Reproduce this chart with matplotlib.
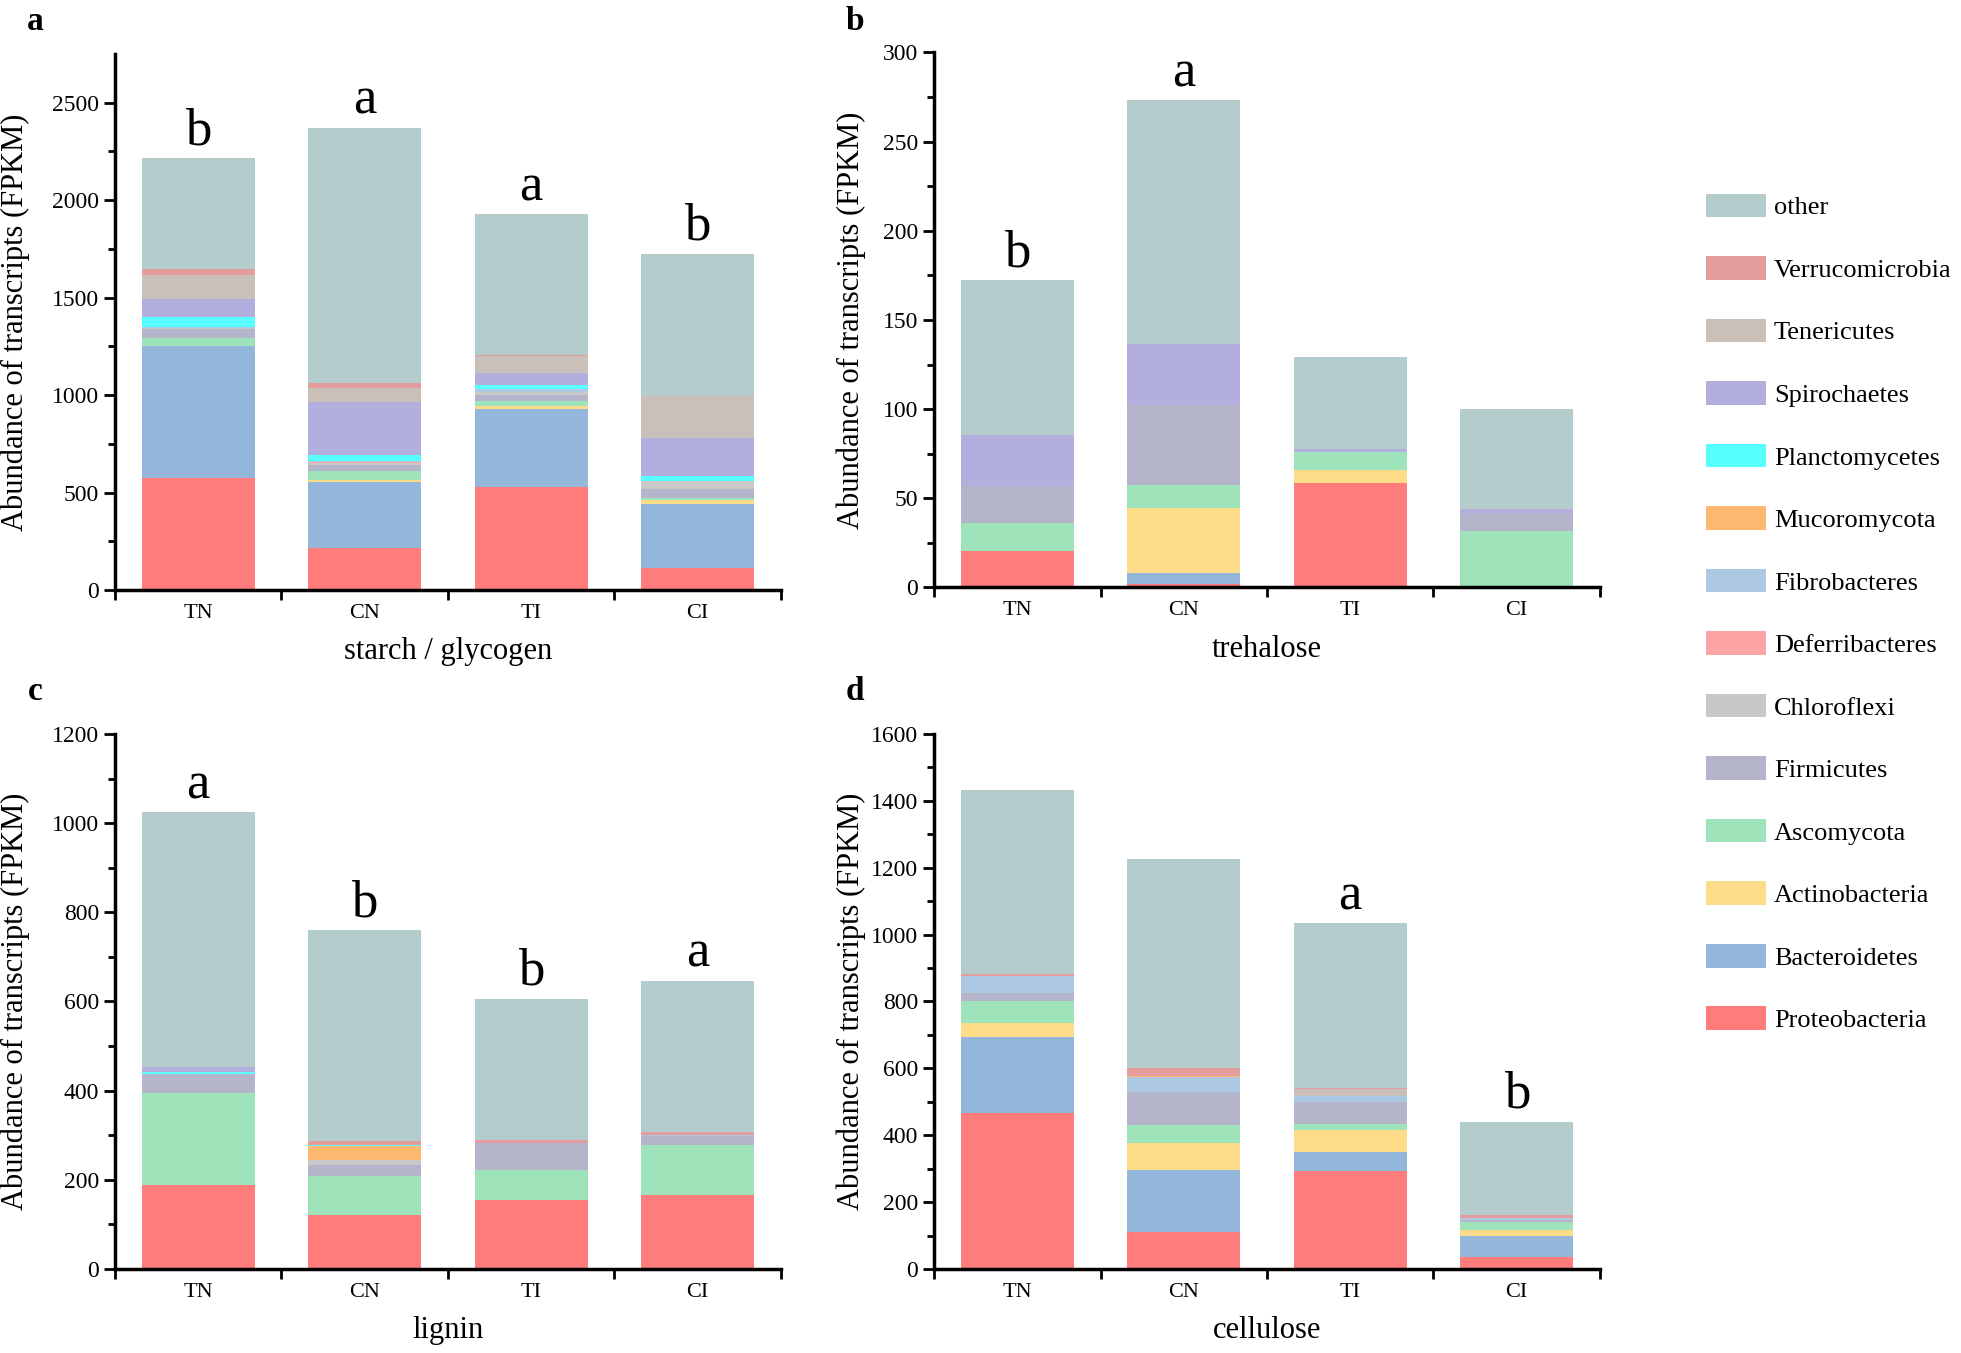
import numpy as np
import matplotlib
matplotlib.use("Agg")
import matplotlib.pyplot as plt
from matplotlib.patches import Patch

plt.rcParams["font.family"] = ["Liberation Serif", "DejaVu Serif"]

groups = ["TN", "CN", "TI", "CI"]

# stacking order, bottom to top
taxa = ["Proteobacteria", "Bacteroidetes", "Actinobacteria", "Ascomycota",
        "Firmicutes", "Chloroflexi", "Deferribacteres", "Fibrobacteres",
        "Mucoromycota", "Planctomycetes", "Spirochaetes", "Tenericutes",
        "Verrucomicrobia", "other"]

colors = ["#FF7C7C", "#94B6DA", "#FDDC89", "#9EE3BA",
          "#B4B4CA", "#C8C8C8", "#FCA3A3", "#ADC8E2",
          "#FCB86E", "#57FFFF", "#B2AEDD", "#CAC0BA",
          "#E59C9C", "#B5CCCC"]

# values per taxon (rows, same order as taxa) for TN, CN, TI, CI
starch = [
    [576, 214, 528, 113],
    [676, 342, 400, 329],
    [0, 11, 15, 21],
    [43, 42, 26, 10],
    [45, 34, 30, 47],
    [3, 10, 15, 37],
    [3, 2, 3, 0],
    [5, 5, 13, 0],
    [0, 0, 0, 0],
    [49, 34, 24, 26],
    [94, 271, 57, 199],
    [123, 74, 91, 212],
    [31, 21, 4, 0],
    [566, 1311, 723, 731],
]

trehalose = [
    [20.6, 2.2, 58.7, 0],
    [0, 5.7, 0, 0],
    [0, 36.4, 7, 0],
    [15.3, 12.9, 10, 31.6],
    [21, 45.4, 0, 10.3],
    [0, 0, 0, 0],
    [0, 0, 0, 0],
    [0, 0, 0, 0],
    [0, 0, 0, 0],
    [0, 0, 0, 0],
    [28.4, 33.7, 2, 2.2],
    [0, 0, 0, 0],
    [0, 0, 0, 0],
    [87, 137, 51.4, 56.1],
]

lignin = [
    [189, 122, 155, 166],
    [0, 0, 0, 0],
    [0, 0, 0, 0],
    [205, 87, 67, 111],
    [44, 25, 60, 21],
    [0, 11, 0, 0],
    [0, 0, 0, 0],
    [0, 0, 0, 3],
    [0, 31, 0, 0],
    [4, 3, 0, 0],
    [12, 0, 0, 0],
    [0, 0, 0, 0],
    [0, 7, 7, 7],
    [570, 474, 317, 339],
]

cellulose = [
    [467, 111, 294, 35],
    [226, 185, 55, 65],
    [43, 82, 66, 17],
    [64, 52, 20, 23],
    [24, 100, 63, 7],
    [0, 0, 0, 0],
    [0, 0, 0, 0],
    [52, 43, 20, 6],
    [0, 3, 0, 0],
    [0, 0, 0, 0],
    [0, 0, 0, 0],
    [0, 0, 20, 0],
    [5, 26, 4, 7],
    [551, 624, 492, 280],
]

letters_starch = ["b", "a", "a", "b"]
letters_trehalose = ["b", "a", "", ""]
letters_lignin = ["a", "b", "b", "a"]
letters_cellulose = ["", "", "a", "b"]

W, H = 1961, 1353
fig = plt.figure(figsize=(W / 100, H / 100), dpi=100)


def make_panel(rect, values, letters, xlabel, ymax, ystep, ylab_x):
    ax = fig.add_axes(rect)
    x = np.arange(len(groups))
    bottom = np.zeros(len(groups))
    for col, vals in zip(colors, values):
        vals = np.array(vals, dtype=float)
        ax.bar(x, vals, width=0.68, bottom=bottom, color=col, linewidth=0)
        bottom += vals
    for xi, top, lab in zip(x, bottom, letters):
        if lab:
            ax.annotate(lab, (xi, top), xytext=(0, 10), textcoords="offset points",
                        ha="center", va="baseline", fontsize=38)

    ax.set_xlim(-0.5, 3.5)
    ax.set_ylim(0, ymax)
    ax.set_xticks(x)
    ax.set_xticklabels(groups, fontsize=16)
    ax.set_xticks(np.arange(-0.5, 4), minor=True)
    ax.tick_params(axis="x", which="major", length=0, pad=10)
    ax.tick_params(axis="x", which="minor", length=7, width=2, direction="out")
    ax.set_yticks(np.arange(0, ymax + 1, ystep))
    ax.set_yticks(np.arange(ystep / 2, ymax, ystep), minor=True)
    ax.tick_params(axis="y", which="major", length=8, width=2, labelsize=17)
    ax.tick_params(axis="y", which="minor", length=5, width=2)

    for s in ["top", "right"]:
        ax.spines[s].set_visible(False)
    for s in ["left", "bottom"]:
        ax.spines[s].set_linewidth(2.5)

    ax.set_xlabel(xlabel, fontsize=22)
    ax.xaxis.set_label_coords(0.5, -0.088)
    ax.set_ylabel("Abundance of transcripts (FPKM)", fontsize=22)
    ax.yaxis.set_label_coords(ylab_x, 0.5)
    return ax


ax_a = make_panel([0.0586, 0.5639, 0.3396, 0.3962], starch, letters_starch,
                  "starch / glycogen", 2750, 500, -0.128)
ax_b = make_panel([0.4763, 0.5658, 0.3396, 0.3954], trehalose, letters_trehalose,
                  "trehalose", 300, 50, -0.102)
ax_c = make_panel([0.0586, 0.0621, 0.3396, 0.3954], lignin, letters_lignin,
                  "lignin", 1200, 200, -0.128)
ax_d = make_panel([0.4763, 0.0621, 0.3396, 0.3954], cellulose, letters_cellulose,
                  "cellulose", 1600, 200, -0.102)

for tag, xp, yp in [("a", 35, 22), ("b", 855, 22), ("c", 35, 691), ("d", 855, 691)]:
    fig.text(xp / W, 1 - yp / H, tag, fontsize=24, fontweight="bold",
             ha="center", va="center")

handles = [Patch(facecolor=c, edgecolor="none", label=t)
           for t, c in zip(taxa, colors)][::-1]
fig.legend(handles=handles, loc="upper left", bbox_to_anchor=(0.8646, 1 - 183 / H),
           frameon=False, fontsize=19, handlelength=2.27, handleheight=1.0,
           labelspacing=1.39, handletextpad=0.3, borderaxespad=0)

fig.savefig("out.png", dpi=100)
